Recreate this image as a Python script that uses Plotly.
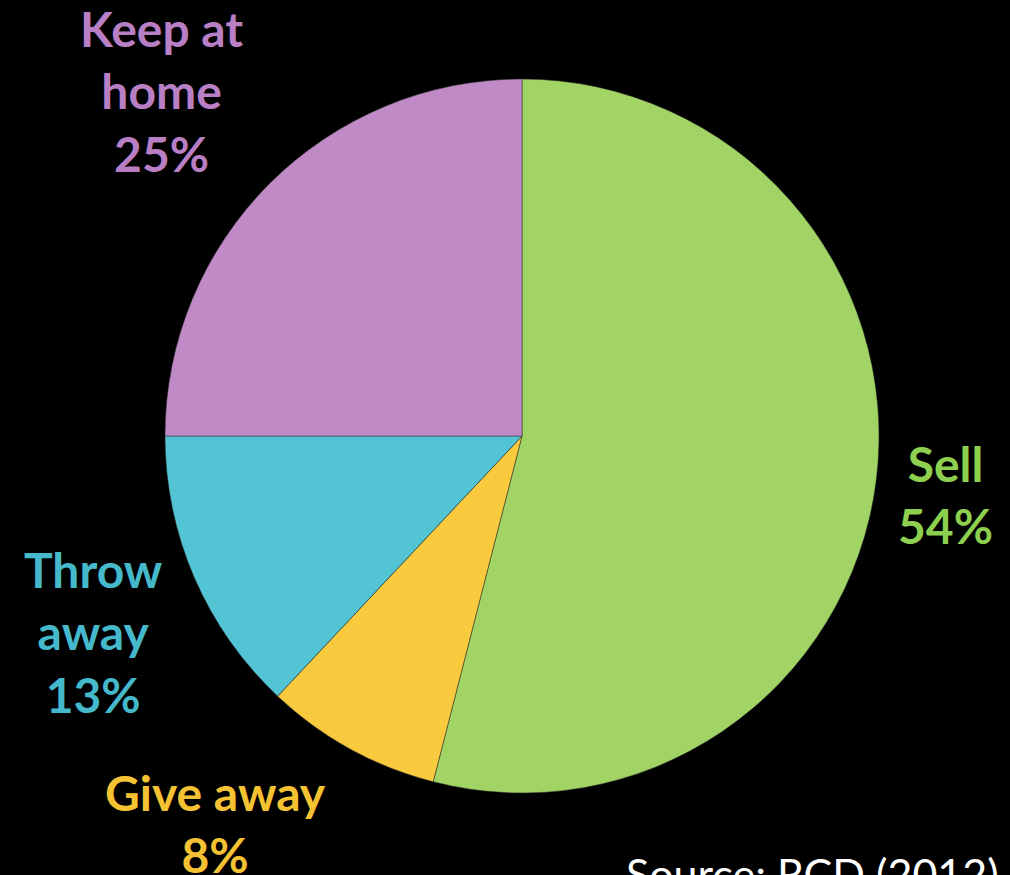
import plotly.graph_objects as go

categories = ["Sell", "Give away", "Throw away", "Keep at home"]
values = [54, 8, 13, 25]
slice_colors = ["#A2D465", "#F9CA3E", "#53C4D3", "#BF8AC6"]
text_colors = ["#8DCF4E", "#F4C232", "#45B8CB", "#B97FC5"]
label_texts = ["Sell<br>54%", "Give away<br>8%", "Throw<br>away<br>13%", "Keep at<br>home<br>25%"]
label_pos_px = [(945, 494), (215, 823), (93, 632), (161, 91)]  # center x, center y in pixels
source_text = "Source: RCD (2012)"

W, H = 1010, 875
cx, cy, r = 522, 436, 357

fig = go.Figure(go.Pie(
    labels=categories,
    values=values,
    sort=False,
    direction="clockwise",
    rotation=0,
    marker=dict(colors=slice_colors, line=dict(color="#2a2a2a", width=0.5)),
    textinfo="none",
    hoverinfo="label+percent",
    showlegend=False,
    domain=dict(x=[(cx - r) / W, (cx + r) / W], y=[(H - cy - r) / H, (H - cy + r) / H]),
))

annotations = []
for txt, col, (px, py) in zip(label_texts, text_colors, label_pos_px):
    annotations.append(dict(
        text=f"<b>{txt}</b>", x=px / W, y=1 - py / H, xref="paper", yref="paper",
        xanchor="center", yanchor="middle", showarrow=False, align="center",
        font=dict(family="Lato, Open Sans, sans-serif", size=48, color=col),
    ))
annotations.append(dict(
    text=source_text, x=624 / W, y=1 - 846 / H, xref="paper", yref="paper",
    xanchor="left", yanchor="top", showarrow=False,
    font=dict(family="Lato, Open Sans, sans-serif", size=43, color="#FFFFFF"),
))

fig.update_layout(
    width=W, height=H, autosize=False,
    margin=dict(l=0, r=0, t=0, b=0),
    paper_bgcolor="#000000", plot_bgcolor="#000000",
    annotations=annotations,
)
fig.write_html(
    "out.html",
    config={"displayModeBar": False},
    post_script="document.body.style.margin='0';document.body.style.overflow='hidden';document.body.style.background='#000';",
)
